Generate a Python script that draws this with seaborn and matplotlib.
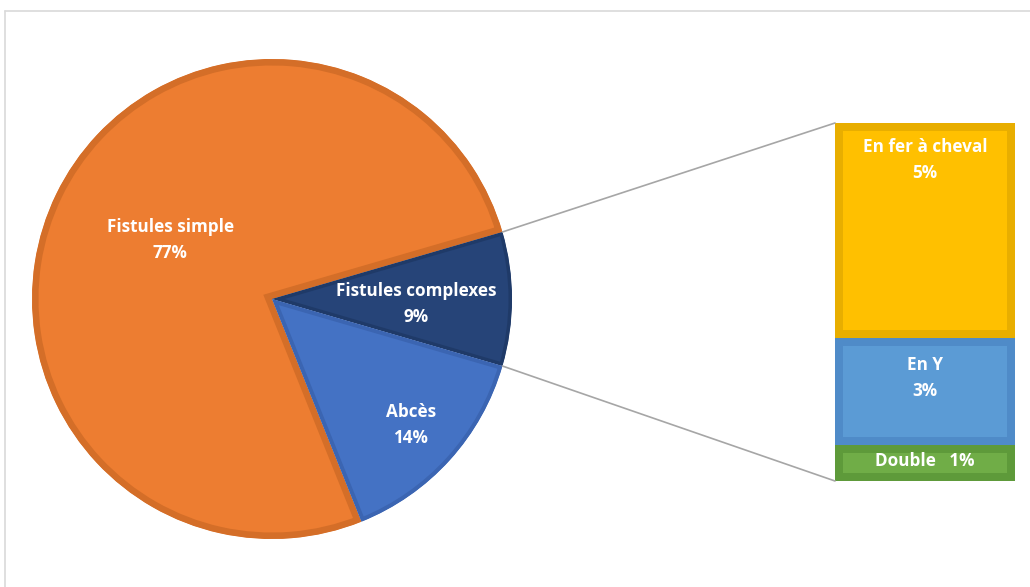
import numpy as np
import matplotlib
matplotlib.use("Agg")
import matplotlib.pyplot as plt
import seaborn as sns
from matplotlib.patches import ConnectionPatch
from matplotlib.lines import Line2D

# Nombre de cas par type de lésion
main_labels = ["Fistules simple", "Fistules complexes", "Abcès"]
main_counts = [85, 10, 16]
# Détail des fistules complexes
sub_labels = ["En fer à cheval", "En Y", "Double"]
sub_counts = [6, 3, 1]

main_colors = ["#ED7D31", "#264478", "#4472C4"]
main_edges = ["#D46E28", "#1F3A68", "#3B65B2"]
sub_colors = ["#FFC000", "#5B9BD5", "#70AD47"]
sub_edges = ["#E8AE00", "#4F8BC8", "#5E9A3A"]

sns.set_theme(style="white")
plt.rcParams["font.family"] = ["Open Sans", "DejaVu Sans"]
FS = 12.3
LS = 1.55

W, H = 1030, 587
fig = plt.figure(figsize=(W / 100, H / 100), dpi=100)
fig.patch.set_facecolor("white")
ax = fig.add_axes([0, 0, 1, 1])

total = sum(main_counts)
shares = [c / total * 360 for c in main_counts]
cx, cy, r = 272, 288, 240

wedges, _ = ax.pie(
    main_counts,
    colors=main_colors,
    startangle=shares[1] / 2 + shares[0],
    counterclock=False,
    center=(cx, cy),
    radius=r,
)
edge_px = [13, 7, 8]
for w, ec, lw in zip(wedges, main_edges, edge_px):
    w.set_edgecolor(ec)
    w.set_linewidth(lw * 0.72)
    w.set_clip_on(True)
    w.set_clip_path(w)

ax.set_xlim(0, W)
ax.set_ylim(0, H)
ax.set_aspect("equal")
ax.axis("off")

# Cadre gris autour du graphique
ax.add_line(Line2D([4.5, 4.5], [0, H - 10.5], color="#D9D9D9", lw=1.2))
ax.add_line(Line2D([4.5, W], [H - 10.5, H - 10.5], color="#D9D9D9", lw=1.2))

# Étiquettes du camembert : position relative dans l'angle et le rayon du secteur
label_ang = [0.485, 0.44, 0.5]
label_rad = [0.49, 0.6, 0.78]
for w, name, cnt, fa, fr in zip(wedges, main_labels, main_counts,
                                label_ang, label_rad):
    a = np.deg2rad(w.theta1 + fa * (w.theta2 - w.theta1))
    ax.text(cx + fr * r * np.cos(a), cy + fr * r * np.sin(a),
            f"{name}\n{round(cnt / total * 100)}%",
            ha="center", va="center", multialignment="center",
            color="white", fontsize=FS, fontweight="bold", linespacing=LS)

# Barre de détail
ax2 = fig.add_axes([835 / W, (H - 481) / H, 180 / W, 358 / H])
sub_total = sum(sub_counts)
bottoms = sub_total - np.cumsum(sub_counts)
bars = ax2.bar(0, sub_counts, bottom=bottoms, width=1.0,
               color=sub_colors, edgecolor=sub_edges, linewidth=16 * 0.72)
for b in bars:
    b.set_clip_path(b)
ax2.set_xlim(-0.5, 0.5)
ax2.set_ylim(0, sub_total)
ax2.axis("off")

offsets_px = [15, 18, 7]
for name, cnt, btm, off in zip(sub_labels, sub_counts, bottoms, offsets_px):
    pct = round(cnt / total * 100)
    txt = f"{name}   {pct}%" if cnt == min(sub_counts) else f"{name}\n{pct}%"
    ax2.annotate(txt, xy=(0, btm + cnt), xytext=(0, -off * 0.72),
                 textcoords="offset points", ha="center", va="top",
                 multialignment="center", color="white", fontsize=FS,
                 fontweight="bold", linespacing=LS)

# Lignes de liaison entre le secteur et la barre
w_c = wedges[1]
links = [(max(w_c.theta1, w_c.theta2), sub_total),
         (min(w_c.theta1, w_c.theta2), 0)]
for ang, yb in links:
    a = np.deg2rad(ang)
    con = ConnectionPatch(xyA=(cx + r * np.cos(a), cy + r * np.sin(a)),
                          coordsA=ax.transData,
                          xyB=(-0.5, yb), coordsB=ax2.transData,
                          color="#A6A6A6", lw=1.2)
    fig.add_artist(con)

fig.savefig("out.png", dpi=100, facecolor="white")
